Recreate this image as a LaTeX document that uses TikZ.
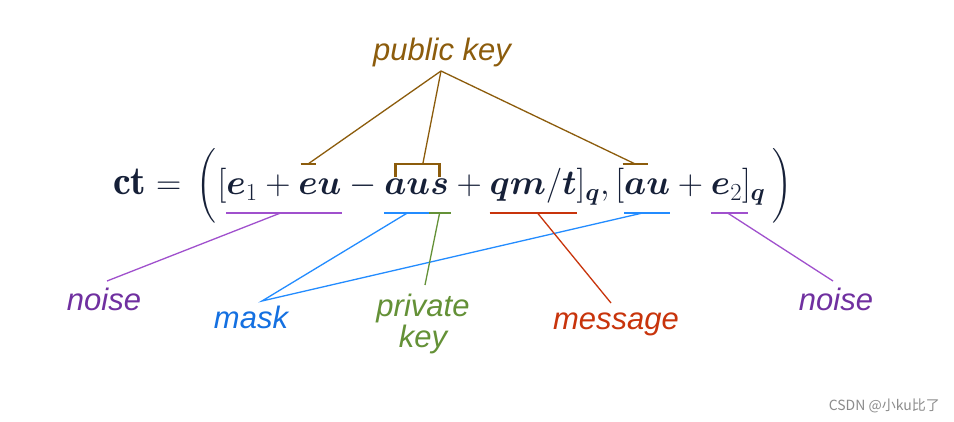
\RequirePackage{fix-cm}
\documentclass[tikz,border=0pt]{standalone}
\usepackage{amsmath,bm}
\usepackage{fontspec}
\usetikzlibrary{calc}
\newfontfamily\labfont{Liberation Sans}
\newfontfamily\cjkfont{Noto Sans CJK SC}
\definecolor{navy}{RGB}{22,32,56}
\definecolor{pkbrown}{RGB}{140,92,12}
\definecolor{noisetxt}{RGB}{112,48,160}
\definecolor{noiseln}{RGB}{160,80,205}
\definecolor{masktxt}{RGB}{20,112,225}
\definecolor{maskln}{RGB}{35,140,255}
\definecolor{privg}{RGB}{100,145,55}
\definecolor{msgred}{RGB}{200,52,12}
\tikzset{
  f/.style={inner sep=0pt, outer sep=0pt, anchor=base west, text=navy,
    font=\fontsize{35}{40}\selectfont},
  lab/.style={inner sep=0pt, anchor=base, font=\labfont\itshape\fontsize{31}{37}\selectfont, align=center},
  thin/.style={line width=1.3pt},
  thick/.style={line width=2.8pt}
}
\begin{document}
\begin{tikzpicture}[x=1pt,y=-1pt]
\useasboundingbox[fill=white] (0,0) rectangle (954,422);
% formula
\node[f] (p0) at (113,195) {{\fontsize{40}{42}\selectfont$\mathbf{ct}$}${}={}\left(\vrule height 42pt depth 24pt width 0pt\right.$};
\node[f] (lb) at (p0.base east) {$[$};
\node[f] (e1) at (lb.base east) {$\bm{e}_1{}+{}$};
\node[f] (eA) at (e1.base east) {$\bm{e}$};
\node[f] (uA) at (eA.base east) {$\bm{u}$};
\node[f] (m1) at (uA.base east) {${}-{}$};
\node[f] (aB) at (m1.base east) {$\bm{a}$};
\node[f] (uB) at (aB.base east) {$\bm{u}$};
\node[f] (sB) at (uB.base east) {$\bm{s}$};
\node[f] (p1) at (sB.base east) {${}+{}$};
\node[f] (qmt) at (p1.base east) {$\bm{q}\bm{m}/\bm{t}$};
\node[f] (mid) at (qmt.base east) {$]_{\bm{q}},[$};
\node[f] (aC) at (mid.base east) {$\bm{a}$};
\node[f] (uC) at (aC.base east) {$\bm{u}$};
\node[f] (p2) at (uC.base east) {${}+{}$};
\node[f] (e2) at (p2.base east) {$\bm{e}_2$};
\node[f] (fin) at (e2.base east) {$]_{\bm{q}}\left.\vrule height 42pt depth 24pt width 0pt\right)$};
% labels
\node[lab, text=pkbrown] (pk) at (442,61) {public key};
\coordinate (pkapex) at (441,71);
\node[lab, text=noisetxt] (n1) at (104,311) {noise};
\node[lab, text=masktxt] (mk) at (251,329) {mask};
\coordinate (mkapex) at (262,301);
\node[lab, text=privg, font=\labfont\itshape\fontsize{31}{31}\selectfont] (pv) at (423,348) {private\\key};
\node[lab, text=msgred] (msg) at (616,330) {message};
\node[lab, text=noisetxt] (n2) at (836,311) {noise};
\node[inner sep=0pt, anchor=base east, text=black!45, font=\cjkfont\fontsize{14}{16}\selectfont] (wm) at (940,410) {CSDN @小ku比了};
% public key brackets
\coordinate (tA) at ([yshift=31pt]eA.base);
\coordinate (tC) at ([yshift=31pt]aC.base);
\coordinate (bl) at ([yshift=31pt]aB.base);
\coordinate (br) at ([yshift=31pt]sB.base);
\draw[pkbrown, thick] ([xshift=-7.5pt]tA) -- ([xshift=7.5pt]tA);
\draw[pkbrown, thick] ([xshift=-12.5pt]tC) -- ([xshift=12.5pt]tC);
\draw[pkbrown, thick, line join=miter] ([yshift=-13pt]bl) -- (bl) -- (br) -- ([yshift=-13pt]br);
\coordinate (bm) at ($(bl)!0.62!(br)$);
\draw[pkbrown, thin] (pkapex) -- (tA);
\draw[pkbrown, thin] (pkapex) -- (bm);
\draw[pkbrown, thin] (pkapex) -- (tC);
% underlines
\coordinate (u1l) at ([yshift=-18pt]e1.base west);
\coordinate (u1r) at ([yshift=-18pt]uA.base east);
\draw[noiseln, thick] (u1l) -- (u1r);
\draw[noiseln, thin] ($(u1l)!0.47!(u1r)$) -- (107,281);
\coordinate (m1l) at ([yshift=-18pt]aB.base west);
\coordinate (m1r) at ([yshift=-18pt]uB.base east);
\draw[maskln, thick] (m1l) -- (m1r);
\coordinate (m2l) at ([yshift=-18pt]aC.base west);
\coordinate (m2r) at ([yshift=-18pt]uC.base east);
\draw[maskln, thick] (m2l) -- (m2r);
\draw[maskln, thin] ($(m1l)!0.5!(m1r)$) -- (mkapex) -- ($(m2l)!0.4!(m2r)$);
\coordinate (sl) at ([yshift=-18pt]sB.base west);
\coordinate (sr) at ([yshift=-18pt]sB.base east);
\draw[privg, thick] ([xshift=-1pt]sl) -- ([xshift=2pt]sr);
\draw[privg, thin] ($(sl)!0.5!(sr)$) -- (425,285);
\coordinate (ql) at ([yshift=-18pt]qmt.base west);
\coordinate (qr) at ([yshift=-18pt]qmt.base east);
\draw[msgred, thick] (ql) -- (qr);
\draw[msgred, thin] ($(ql)!0.55!(qr)$) -- (611,303);
\coordinate (el) at ([yshift=-18pt]e2.base west);
\coordinate (er) at ([yshift=-18pt,xshift=6pt]e2.base east);
\draw[noiseln, thick] (el) -- (er);
\draw[noiseln, thin] ($(el)!0.45!(er)$) -- (833,281);
\end{tikzpicture}
\end{document}
